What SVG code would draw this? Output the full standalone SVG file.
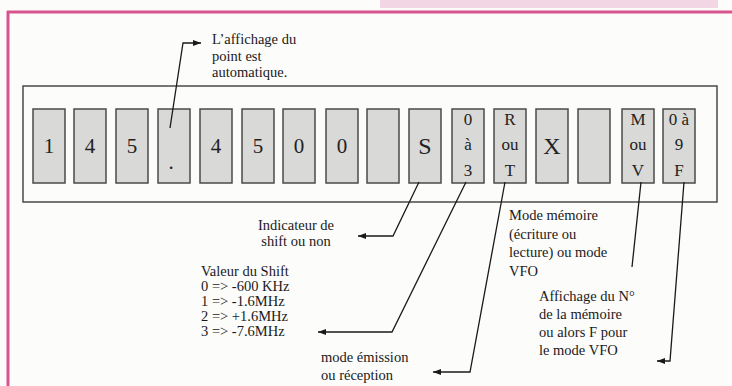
<svg xmlns="http://www.w3.org/2000/svg" width="732" height="386" viewBox="0 0 732 386">
<defs>
<style>
.box{fill:#d9d9d7;stroke:#4a4a4a;stroke-width:1.5}
.frame{fill:none;stroke:#4a4a4a;stroke-width:1.5}
.dg{font-family:"Liberation Serif","Times New Roman",serif;font-size:21px;fill:#222;text-anchor:middle}
.big{font-family:"Liberation Serif","Times New Roman",serif;font-size:24px;fill:#222;text-anchor:middle}
.sm{font-family:"Liberation Serif","Times New Roman",serif;font-size:17px;fill:#222;text-anchor:middle}
.t{font-family:"Liberation Serif","Times New Roman",serif;font-size:14.5px;fill:#1a1a1a}
.c{fill:none;stroke:#1a1a1a;stroke-width:1.3}
.pink{stroke:#d8548e;stroke-width:3;fill:none}
</style>
<marker id="ah" viewBox="0 0 8 6" refX="8" refY="3" markerWidth="8" markerHeight="6" markerUnits="userSpaceOnUse" orient="auto">
<path d="M0,0 L8,3 L0,6 z" fill="#1a1a1a"/>
</marker>
</defs>
<rect x="0" y="0" width="732" height="386" fill="#fcfcfa"/>
<rect x="380" y="0" width="338" height="8" fill="#f3d6e4"/>
<g id="page-border">
<path class="pink" d="M7,12 L732,12 M8,11 L8,386"/>
</g>
<g id="display-frame">
<rect class="frame" x="23" y="86" width="694" height="116"/>
</g>
<g id="cell-1"><rect class="box" x="33" y="109" width="32" height="74"/><text class="dg" x="49" y="153">1</text></g>
<g id="cell-2"><rect class="box" x="74" y="109" width="32" height="74"/><text class="dg" x="90" y="153">4</text></g>
<g id="cell-3"><rect class="box" x="116" y="109" width="32" height="74"/><text class="dg" x="132" y="153">5</text></g>
<g id="cell-4"><rect class="box" x="158" y="109" width="32" height="74"/><text class="dg" x="171" y="169">.</text></g>
<g id="cell-5"><rect class="box" x="200" y="109" width="32" height="74"/><text class="dg" x="216" y="153">4</text></g>
<g id="cell-6"><rect class="box" x="242" y="109" width="32" height="74"/><text class="dg" x="258" y="153">5</text></g>
<g id="cell-7"><rect class="box" x="283" y="109" width="32" height="74"/><text class="dg" x="299" y="153">0</text></g>
<g id="cell-8"><rect class="box" x="326" y="109" width="32" height="74"/><text class="dg" x="342" y="153">0</text></g>
<g id="cell-9"><rect class="box" x="367" y="109" width="32" height="74"/></g>
<g id="cell-10"><rect class="box" x="409" y="109" width="32" height="74"/><text class="big" x="425" y="154">S</text></g>
<g id="cell-11"><rect class="box" x="452" y="109" width="32" height="74"/><text class="sm" x="468" y="125">0</text><text class="sm" x="468" y="150">à</text><text class="sm" x="468" y="176">3</text></g>
<g id="cell-12"><rect class="box" x="494" y="109" width="32" height="74"/><text class="sm" x="510" y="125">R</text><text class="sm" x="510" y="150">ou</text><text class="sm" x="510" y="176">T</text></g>
<g id="cell-13"><rect class="box" x="536" y="109" width="32" height="74"/><text class="big" x="552" y="154">X</text></g>
<g id="cell-14"><rect class="box" x="578" y="109" width="32" height="74"/></g>
<g id="cell-15"><rect class="box" x="622" y="109" width="32" height="74"/><text class="sm" x="638" y="125">M</text><text class="sm" x="638" y="150">ou</text><text class="sm" x="638" y="176">V</text></g>
<g id="cell-16"><rect class="box" x="663" y="109" width="32" height="74"/><text class="sm" x="679" y="125">0 à</text><text class="sm" x="679" y="150">9</text><text class="sm" x="679" y="176">F</text></g>
<g id="connectors">
<path class="c" d="M170,128 L183,43 L201,43" marker-end="url(#ah)"/>
<path class="c" d="M419,182 L393,236 L358,236" marker-end="url(#ah)"/>
<path class="c" d="M466,182 L392,332 L318,332" marker-end="url(#ah)"/>
<path class="c" d="M505,182 L470,372 L433,372" marker-end="url(#ah)"/>
<path class="c" d="M641,182 L632,267"/>
<path class="c" d="M684,182 L670,361 L657,361" marker-end="url(#ah)"/>
</g>
<g id="label-point">
<text class="t" x="212" y="44">L’affichage du</text>
<text class="t" x="212" y="61">point est</text>
<text class="t" x="212" y="77">automatique.</text>
</g>
<g id="label-shift">
<text class="t" x="296" y="230" text-anchor="middle">Indicateur de</text>
<text class="t" x="296" y="246" text-anchor="middle">shift ou non</text>
</g>
<g id="label-valeur">
<text class="t" x="201" y="276">Valeur du Shift</text>
<text class="t" x="201" y="291">0 =&gt; -600 KHz</text>
<text class="t" x="201" y="306">1 =&gt; -1.6MHz</text>
<text class="t" x="201" y="321">2 =&gt; +1.6MHz</text>
<text class="t" x="201" y="336">3 =&gt; -7.6MHz</text>
</g>
<g id="label-emission">
<text class="t" x="321" y="362">mode émission</text>
<text class="t" x="321" y="380">ou réception</text>
</g>
<g id="label-memoire">
<text class="t" x="509" y="220">Mode mémoire</text>
<text class="t" x="509" y="238.5">(écriture ou</text>
<text class="t" x="509" y="257">lecture)  ou mode</text>
<text class="t" x="509" y="275.5">VFO</text>
</g>
<g id="label-affichage">
<text class="t" x="539" y="301">Affichage du N°</text>
<text class="t" x="539" y="319">de la mémoire</text>
<text class="t" x="539" y="337">ou alors F pour</text>
<text class="t" x="539" y="355">le mode VFO</text>
</g>
</svg>
